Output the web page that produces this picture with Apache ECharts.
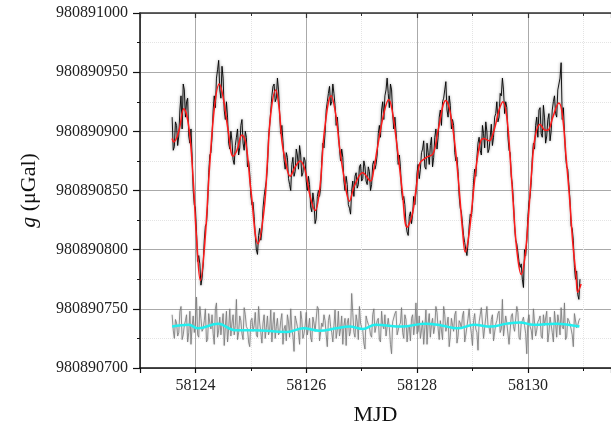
<!DOCTYPE html>
<html><head><meta charset="utf-8">
<script src="https://cdn.jsdelivr.net/npm/echarts@6/dist/echarts.min.js"></script>
<style>html,body{margin:0;padding:0;background:#fff}#c{width:611px;height:431px}</style>
</head><body><div id="c"></div>
<script>
// values are µGal above gBase
const gBase = 980890000;
const yTicks = [980890700, 980890750, 980890800, 980890850, 980890900, 980890950, 980891000];
const xTicks = [58124, 58126, 58128, 58130];
const mjdStart = 58123.58;
const mjdStep = 0.04;      // samples at mjdStart + i*step
const midOffset = 0.02;    // in-between samples at mjdStart + i*step + 0.02
const observed = [
912,887,905,896,930,940,912,928,890,880,
838,815,795,770,787,820,838,880,895,930,
945,960,928,945,910,912,885,892,872,895,
880,905,890,900,870,865,838,828,800,812,
808,835,852,870,905,930,940,928,935,898,
892,868,878,855,872,862,885,868,880,865,
875,850,855,832,840,826,850,852,890,898,
925,938,925,932,905,900,875,878,850,855,
835,850,845,865,855,872,860,870,855,866,
855,875,872,898,895,925,930,945,920,935,
902,900,872,870,842,838,815,828,822,845,
848,872,868,885,870,890,872,895,878,902,
895,918,925,935,918,930,902,905,875,866,
835,822,806,795,820,828,858,862,890,884,
905,886,900,885,906,895,915,908,932,945,
915,920,884,862,840,808,798,785,775,800,
808,840,857,890,905,895,920,895,912,896,
915,900,925,915,935,945,910,900,870,855,
820,808,775,762,775];
const observedMid = [
884,908,888,918,902,935,925,896,902,850,
835,790,788,776,808,822,865,882,918,920,
952,935,955,918,925,890,900,876,888,902,
886,910,884,895,875,846,840,812,796,818,
816,845,858,895,905,938,925,945,915,905,
876,882,860,850,878,866,880,888,862,878,
858,862,836,848,822,845,845,875,886,918,
932,922,940,922,912,885,885,858,862,838,
830,858,862,852,870,858,875,858,870,850,
872,868,880,905,918,910,935,932,940,915,
912,885,880,850,845,822,812,832,830,838,
865,860,882,892,868,882,888,870,895,885,
912,905,928,942,912,922,910,882,878,845,
832,812,800,805,830,838,868,878,895,880,
898,908,882,895,888,912,925,912,930,935,
925,895,882,855,820,805,790,788,768,795,
828,845,878,885,912,918,898,922,890,910,
892,918,930,912,940,958,920,880,868,842,
818,785,782,758];
const residual = [
745,725,738,730,752,728,740,722,748,735,
730,760,726,742,733,750,724,738,745,720,
755,732,728,746,735,722,750,738,728,758,
730,740,724,745,733,718,742,736,728,752,
730,738,725,744,732,722,747,735,728,740,
720,736,745,726,733,714,740,730,748,725,
736,728,742,722,738,732,750,724,735,740,
718,745,730,736,725,748,733,720,742,738,
727,763,730,745,724,738,732,716,740,735,
726,750,731,742,722,736,745,728,734,712,
740,748,727,738,730,745,722,736,742,728,
755,731,725,740,734,720,746,737,729,752,
733,740,724,745,736,718,742,731,748,727,
738,744,722,735,750,729,740,733,715,745,
738,726,752,734,741,723,737,746,730,758,
728,738,720,744,735,730,747,724,740,736,
712,745,732,750,727,739,744,725,736,748,
730,742,722,738,745,728,735,755,726,740,
733,718,745,736,742];
const residualMid = [
732,741,727,748,724,736,745,730,720,744,
738,728,752,731,740,722,746,733,729,750,
726,743,737,719,748,733,727,745,736,724,
744,729,751,735,722,740,731,747,726,738,
721,745,734,728,749,737,725,742,730,746,
733,723,739,750,727,744,735,720,741,729,
747,734,726,743,731,752,723,738,745,728,
740,735,722,749,732,727,744,736,719,742,
731,747,726,739,752,734,721,744,737,728,
745,730,740,724,748,733,727,742,720,739,
746,728,736,751,725,741,734,723,745,737,
729,744,732,720,749,738,726,742,735,747,
724,739,752,731,743,727,736,745,721,740,
733,748,728,742,737,719,746,730,739,751,
725,743,736,729,745,722,740,748,733,727,
744,737,721,746,731,752,726,738,743,729,
740,735,724,749,732,741,727,745,736,722,
743,730,748,726,739,751,733,724,742,737,
728,746,734,740];
const modelMjd = [58123.58,58123.61,58123.70,58123.79,58123.88,58123.96,58124.02,58124.09,58124.17,58124.26,58124.35,58124.43,58124.50,58124.59,58124.68,58124.75,58124.84,58124.91,58125.00,58125.13,58125.24,58125.30,58125.36,58125.45,58125.51,58125.56,58125.62,58125.71,58125.80,58125.89,58125.98,58126.07,58126.16,58126.25,58126.33,58126.45,58126.54,58126.60,58126.69,58126.78,58126.87,58127.02,58127.16,58127.22,58127.28,58127.40,58127.49,58127.55,58127.64,58127.73,58127.82,58127.91,58127.99,58128.05,58128.17,58128.29,58128.38,58128.52,58128.59,58128.68,58128.76,58128.82,58128.87,58128.94,58129.03,58129.09,58129.15,58129.21,58129.30,58129.39,58129.48,58129.55,58129.62,58129.68,58129.74,58129.80,58129.88,58129.95,58130.01,58130.07,58130.13,58130.22,58130.31,58130.36,58130.45,58130.56,58130.62,58130.69,58130.75,58130.81,58130.87,58130.90,58130.96];
const modelVal = [894,891,900,919,904,859,810,774,806,873,923,940,929,901,879,884,897,890,851,805,834,875,915,935,920,892,876,862,870,875,867,845,833,854,901,930,912,887,859,841,854,865,858,868,885,915,927,918,887,851,819,829,854,873,878,881,901,926,918,890,851,817,798,814,855,878,892,894,892,901,918,925,912,878,836,800,779,795,828,867,895,906,901,901,912,924,915,878,845,806,778,764,771];
const trendMjd = [58123.58,58123.88,58124.05,58124.41,58124.71,58125.06,58125.65,58125.95,58126.24,58126.54,58126.78,58127.02,58127.25,58127.73,58128.14,58128.44,58128.73,58129.03,58129.33,58129.62,58129.86,58130.10,58130.51,58130.93];
const trendVal = [735,736.5,733.5,737.5,732,732,730.5,733.5,731.5,733.5,735,733,736.5,735,737.5,736,733.5,736.5,735,737.5,738.5,736.5,737.5,735];

function interleave(main, mid) {
  const out = [];
  main.forEach((v, i) => {
    const x = mjdStart + i * mjdStep;
    out.push([+x.toFixed(4), gBase + v]);
    if (i < mid.length) out.push([+(x + midOffset).toFixed(4), gBase + mid[i]]);
  });
  return out;
}
const pairs = (xs, ys) => xs.map((x, i) => [x, gBase + ys[i]]);

const serif = 'Liberation Serif';
const chart = echarts.init(document.getElementById('c'), null, {renderer: 'canvas'});
const xCommon = {type: 'value', min: 58123, max: 58131.5, splitNumber: 4};
chart.setOption({
  animation: false,
  backgroundColor: '#fff',
  grid: {left: 140, top: 13, width: 478, bottom: 62, containLabel: false},
  xAxis: [Object.assign({}, xCommon, {
    position: 'bottom',
    name: 'MJD', nameLocation: 'middle', nameGap: 36,
    nameTextStyle: {fontFamily: serif, fontSize: 22, color: '#111'},
    axisLine: {show: true, onZero: false, lineStyle: {color: '#111', width: 1.5}},
    axisTick: {show: true, length: 5, lineStyle: {color: '#111', width: 1.2}},
    minorTick: {show: true, splitNumber: 2, length: 3, lineStyle: {color: '#111', width: 1}},
    axisLabel: {fontFamily: serif, fontSize: 16, color: '#222', margin: 10,
      showMinLabel: false, showMaxLabel: false,
      formatter: v => xTicks.includes(v) ? String(v) : ''},
    splitLine: {show: true, lineStyle: {color: '#aaa', width: 1}},
    minorSplitLine: {show: true, lineStyle: {color: '#e4e4e4', type: 'dotted', width: 1}}
  }), Object.assign({}, xCommon, {
    position: 'top',
    axisLine: {show: true, onZero: false, lineStyle: {color: '#333', width: 1.5}},
    axisTick: {show: true, inside: true, length: 5, lineStyle: {color: '#333', width: 1.2}},
    minorTick: {show: true, splitNumber: 2, length: 3, lineStyle: {color: '#333', width: 1}},
    axisLabel: {show: false},
    splitLine: {show: false}
  })],
  yAxis: {
    type: 'value', min: yTicks[0], max: yTicks[yTicks.length - 1], interval: 50,
    name: '{i|g} (μGal)', nameLocation: 'middle', nameGap: 100,
    nameTextStyle: {fontFamily: serif, fontSize: 22, color: '#111',
      rich: {i: {fontFamily: serif, fontSize: 22, fontStyle: 'italic', color: '#111'}}},
    axisLine: {show: true, onZero: false, lineStyle: {color: '#111', width: 1.5}},
    axisTick: {show: true, length: 7, lineStyle: {color: '#111', width: 1.2}},
    minorTick: {show: true, splitNumber: 2, length: 3, lineStyle: {color: '#111', width: 1}},
    axisLabel: {fontFamily: serif, fontSize: 16, color: '#222', margin: 12, formatter: v => String(v)},
    splitLine: {show: true, lineStyle: {color: '#aaa', width: 1}},
    minorSplitLine: {show: true, lineStyle: {color: '#e4e4e4', type: 'dotted', width: 1}}
  },
  series: [
    {type: 'line', name: 'residual', data: interleave(residual, residualMid), showSymbol: false, symbol: 'none',
      lineStyle: {color: '#787878', width: 0.8, shadowColor: 'rgba(0,0,0,0.25)', shadowBlur: 2}, z: 2},
    {type: 'line', name: 'observed', data: interleave(observed, observedMid), showSymbol: false, symbol: 'none',
      lineStyle: {color: '#000', width: 0.9, shadowColor: 'rgba(0,0,0,0.5)', shadowBlur: 3}, z: 3},
    {type: 'line', name: 'model', data: pairs(modelMjd, modelVal), showSymbol: false, symbol: 'none',
      smooth: 0.4, lineStyle: {color: '#ff1a1a', width: 1.5}, z: 4},
    {type: 'line', name: 'trend', data: pairs(trendMjd, trendVal), showSymbol: false, symbol: 'none',
      smooth: 0.4, lineStyle: {color: '#22eeee', width: 2.5}, z: 5}
  ]
});
</script></body></html>
